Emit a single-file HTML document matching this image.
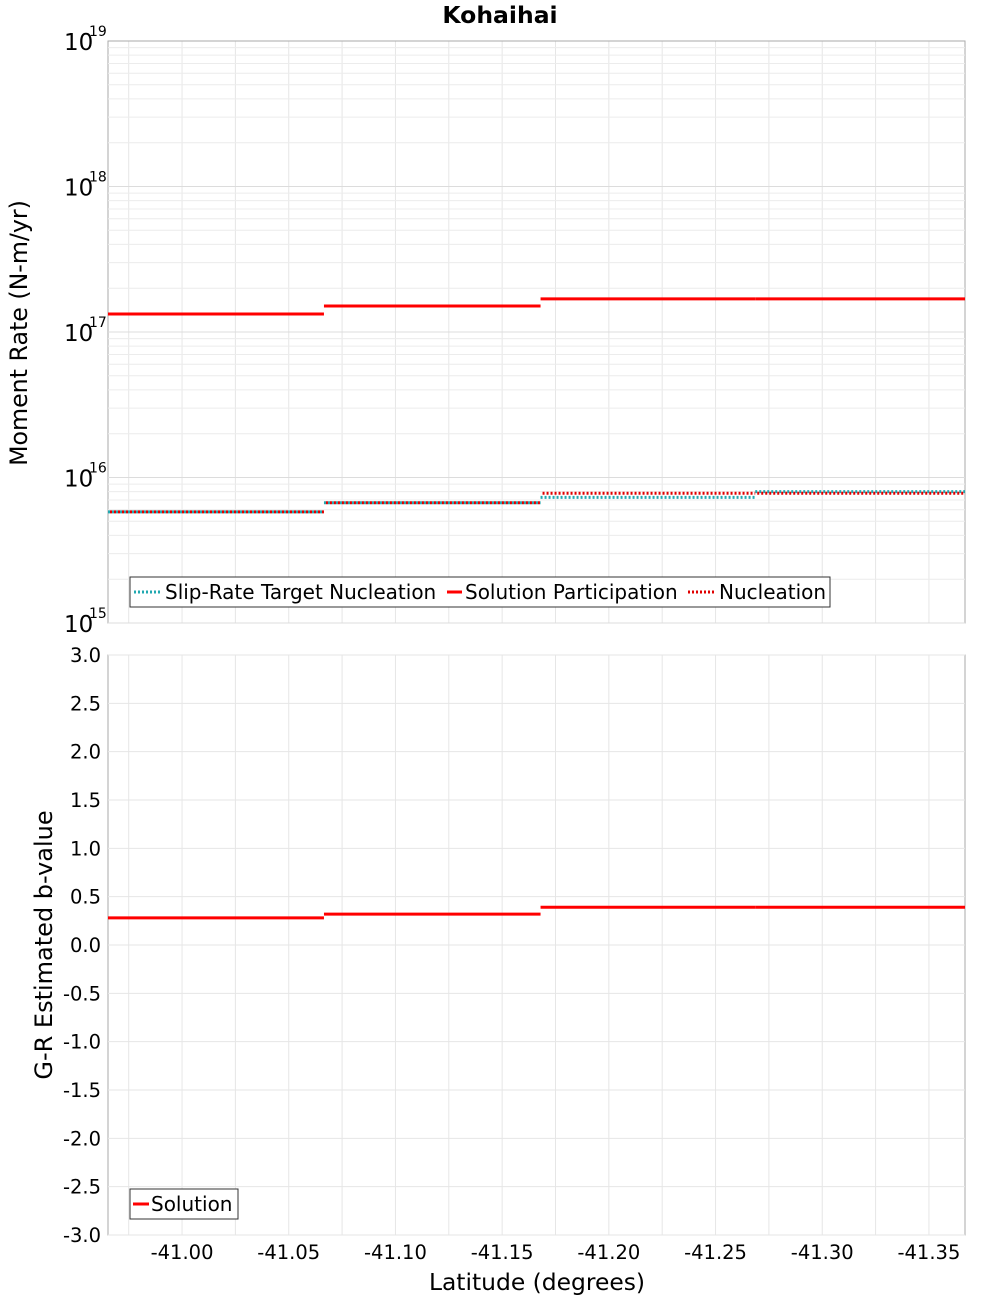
<!DOCTYPE html>
<html><head><meta charset="utf-8"><style>
body{margin:0;background:#fff;font-family:"Liberation Sans","DejaVu Sans",sans-serif}
svg text{font-family:"DejaVu Sans","Liberation Sans",sans-serif}
</style></head><body>
<svg id="c" width="1000" height="1300" xmlns="http://www.w3.org/2000/svg">
<text x="500" y="23" text-anchor="middle" font-size="23.5" font-weight="bold">Kohaihai</text>
<text transform="translate(27,333) rotate(-90)" text-anchor="middle" font-size="23.7">Moment Rate (N-m/yr)</text>
<text transform="translate(52,945) rotate(-90)" text-anchor="middle" font-size="24">G-R Estimated b-value</text>
<text x="537" y="1290" text-anchor="middle" font-size="23.4">Latitude (degrees)</text>
</svg>
<script>
const binEdges=[40.9653,41.0665,41.168,41.2686,41.3669];
const solutionParticipation=[1.33e17,1.51e17,1.69e17,1.69e17];
const nucleation=[5.8e15,6.7e15,7.8e15,7.8e15];
const targetNucleation=[5.8e15,6.7e15,7.3e15,8.0e15];
const bValues=[0.28,0.32,0.39,0.39];
const xTicks=[41.00,41.05,41.10,41.15,41.20,41.25,41.30,41.35];
const bTicks=[3.0,2.5,2.0,1.5,1.0,0.5,0.0,-0.5,-1.0,-1.5,-2.0,-2.5,-3.0];
const logTicks=[15,16,17,18,19];

const svg=document.getElementById('c');const NS='http://www.w3.org/2000/svg';
function mk(t,a,p){const e=document.createElementNS(NS,t);for(const k in a)e.setAttribute(k,a[k]);(p||svg).appendChild(e);return e;}
const L=108,R=965,T1=41,B1=623,T2=655,B2=1235;
const xs=v=>L+(v-40.9653)/(41.3669-40.9653)*(R-L);
const ys1=v=>B1-(Math.log10(v)-15)/4*(B1-T1);
const ys2=v=>T2+(3-v)/6*(B2-T2);
for(const[t,b]of[[T1,B1],[T2,B2]]){
 for(let v=40.975;v<41.37;v+=0.025){const x=xs(v);if(x<L||x>R)continue;
  const g=mk('line',{x1:x,x2:x,y1:t,y2:b,stroke:'#e6e6e6','stroke-width':1});
  }
 const f=mk('rect',{x:L,y:t,width:R-L,height:b-t,fill:'none',stroke:'#aaa'});
 
}
for(let d=15;d<19;d++)for(let m=1;m<10;m++){const y=ys1(m*Math.pow(10,d));
 const g=mk('line',{x1:L,x2:R,y1:y,y2:y,stroke:m==1?'#dcdcdc':'#ececec'});
 }
bTicks.forEach(v=>{const y=ys2(v);
 const g=mk('line',{x1:L,x2:R,y1:y,y2:y,stroke:'#e6e6e6'});
 
 const t=mk('text',{x:101,y:y+7,'text-anchor':'end','font-size':19.5});t.textContent=v.toFixed(1);
 });
logTicks.forEach(d=>{const y=ys1(Math.pow(10,d));
 const t=mk('text',{x:64,y:y+9,'font-size':23});t.textContent='10';
 
 const s=mk('text',{x:89,y:y-5,'font-size':14});s.textContent=String(d);
 });
xTicks.forEach(v=>{const t=mk('text',{x:xs(v),y:1259,'text-anchor':'middle','font-size':19.5});t.textContent='-'+v.toFixed(2);
 });
function steps(vals,ys,st,name){vals.forEach((v,i)=>{
 const l=mk('line',Object.assign({x1:xs(binEdges[i]),x2:xs(binEdges[i+1]),y1:ys(v),y2:ys(v)},st));
 });}
steps(targetNucleation,ys1,{stroke:'#20a8b0','stroke-width':3,'stroke-dasharray':'2 2'},'target-nucleation-segment');
steps(nucleation,ys1,{stroke:'#e00000','stroke-width':3,'stroke-dasharray':'2 2','stroke-dashoffset':2},'nucleation-segment');
steps(solutionParticipation,ys1,{stroke:'#f00','stroke-width':3},'participation-segment');
steps(bValues,ys2,{stroke:'#f00','stroke-width':3},'b-value-segment');
const lg=mk('rect',{x:130,y:577,width:700,height:30,fill:'#fff',stroke:'#333'});

[[134,160,165,'Slip-Rate Target Nucleation','#20a8b0','2 2'],[447,462,465,'Solution Participation','#f00',''],[688,716,719,'Nucleation','#e00000','2 2']].forEach(([x,x2,tx,txt,c,d])=>{
 const l=mk('line',{x1:x,x2:x2,y1:592,y2:592,stroke:c,'stroke-width':3,'stroke-dasharray':d});
 
 const t=mk('text',{x:tx,y:599,'font-size':20});t.textContent=txt;
 });
const lg2=mk('rect',{x:130,y:1189,width:108,height:30,fill:'#fff',stroke:'#333'});

const l2=mk('line',{x1:133,x2:149,y1:1204,y2:1204,stroke:'#f00','stroke-width':3});

const t2=mk('text',{x:151,y:1211,'font-size':20});t2.textContent='Solution';

</script>
</body></html>
